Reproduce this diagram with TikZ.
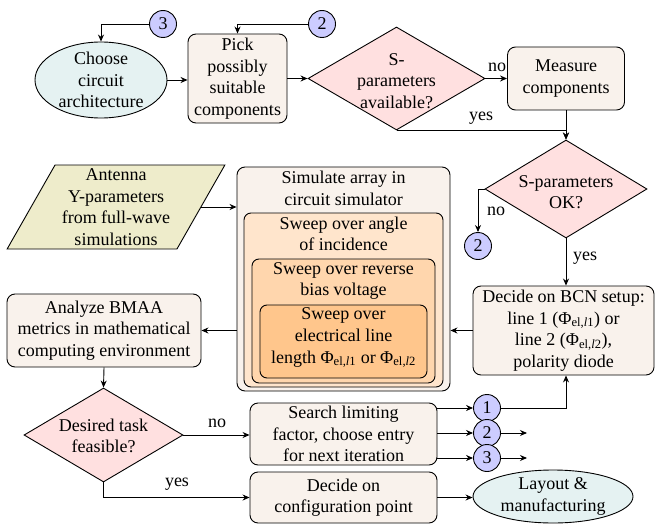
\documentclass[tikz,border=0pt]{standalone}
\usepackage{fontspec}
\setmainfont{Liberation Serif}
\usetikzlibrary{shapes.geometric,arrows.meta}
\begin{document}
\begin{tikzpicture}[x=1pt,y=-1pt,
  font=\fontsize{18}{21.6}\selectfont,
  every node/.style={align=center, inner sep=0pt},
  base/.style={draw=black, line width=0.9pt},
  proc/.style={base, rectangle, rounded corners=8pt, fill=brown!10},
  term/.style={base, ellipse, fill=teal!10},
  dec/.style={base, diamond, fill=red!12},
  io/.style={base, trapezium, trapezium left angle=61, trapezium right angle=119, trapezium stretches=true, fill=olive!15},
  conn/.style={base, circle, fill=blue!20, minimum size=27pt},
  arr/.style={line width=0.9pt, -{Stealth[length=7pt,width=6pt]}}
]
\useasboundingbox (0,0) rectangle (655,524);

% top row
\node[conn] (c3t) at (163,24) {3};
\node[conn] (c2t) at (322,24) {2};
\node[term, minimum width=132pt, minimum height=76pt] (arch) at (101,80) {};
\node (archt) at (101,80) {Choose\\circuit\\architecture};
\node[proc, minimum width=99pt, minimum height=89pt] (pick) at (237.5,78.5) {Pick\\possibly\\suitable\\components};
\node[dec, minimum width=177pt, minimum height=103pt] (avail) at (396.5,78.5) {};
\node (availt) at (396.5,81) {S-\\parameters\\available?};
\node[proc, minimum width=117pt, minimum height=63pt] (meas) at (566,78.5) {Measure\\components};

% right column
\node[dec, minimum width=162pt, minimum height=98pt] (ok) at (566,189) {};
\node (okt) at (566,192) {S-parameters\\OK?};
\node[conn] (c2m) at (478,246) {2};
\node[proc, minimum width=181pt, minimum height=89pt] (bcn) at (563.5,330.5) {Decide on BCN setup:\\line 1 (Φ\textsubscript{el,\textit{l}1}) or\\line 2 (Φ\textsubscript{el,\textit{l}2}),\\polarity diode};

% simulation nest
\node[proc, minimum width=213pt, minimum height=224pt] (sim) at (343.5,279) {};
\node[proc, rounded corners=7pt, fill=orange!20, minimum width=199pt, minimum height=174pt] (sw1) at (343.5,300) {};
\node[proc, rounded corners=7pt, fill=orange!32, minimum width=183pt, minimum height=124pt] (sw2) at (343.5,321) {};
\node[proc, rounded corners=7pt, fill=orange!45, minimum width=167pt, minimum height=73pt] (sw3) at (343.5,341.5) {};
\node (simt) at (343.5,188.5) {Simulate array in\\circuit simulator};
\node (sw1t) at (343.5,234) {Sweep over angle\\of incidence};
\node (sw2t) at (343.5,281) {Sweep over reverse\\bias voltage};
\node (sw3t) at (343.5,338) {Sweep over\\electrical line\\length Φ\textsubscript{el,\textit{l}1} or Φ\textsubscript{el,\textit{l}2}};

% left column
\node[io, minimum width=218pt, minimum height=84pt] (ant) at (116,207) {Antenna\\Y-parameters\\from full-wave\\simulations};
\node[proc, minimum width=194pt, minimum height=73pt] (ana) at (104,330.5) {Analyze BMAA\\metrics in mathematical\\computing environment};
\node[dec, minimum width=159pt, minimum height=94pt] (des) at (103.5,435) {};
\node (dest) at (103.5,436) {Desired task\\feasible?};

% bottom
\node[proc, minimum width=187pt, minimum height=62pt] (srch) at (343.5,434) {Search limiting\\factor, choose entry\\for next iteration};
\node[proc, minimum width=187pt, minimum height=51pt] (cfg) at (343.5,497.5) {Decide on\\configuration point};
\node[term, minimum width=160pt, minimum height=53pt] (lay) at (553,496.5) {};
\node (layt) at (553,496.5) {Layout \&\\manufacturing};
\node[conn] (c1) at (487,408) {1};
\node[conn] (c2) at (487,433) {2};
\node[conn] (c3) at (487,458) {3};
\coordinate (e2) at (527,433);
\coordinate (e3) at (527,458);

% connectors
\draw[arr] (c3t.west) -| (arch.north);
\draw[arr] (c2t.west) -| (pick.north);
\draw[arr] (arch.east) -- (pick.west |- arch.east);
\draw[arr] (pick.east) -- (avail.west);
\draw[arr] (avail.east) -- (meas.west);
\node (no1) at (497,67) {no};
\draw[arr] (meas.south) -- (ok.north);
\draw[arr] (avail.south) -| (ok.north);
\node (yes1) at (481,118) {yes};
\draw[arr] (ok.west) -| (c2m.north);
\node (no2) at (496,211) {no};
\draw[arr] (ok.south) -- (ok.south |- bcn.north);
\node (yes2) at (585,258) {yes};
\draw[arr] (bcn.west) -- (bcn.west -| sim.east);
\draw[arr] (ant.east) -- (ant.east -| sim.west);
\draw[arr] (ana.east -| sim.west) -- (ana.east);
\draw[arr] (ana.south) -- (des.north);
\draw[arr] (des.east) -- (des.east -| srch.west);
\node (no3) at (217,423) {no};
\draw[arr] (des.south) |- (cfg.west);
\node (yes3) at (177,484) {yes};
\draw[arr] (cfg.east) -- (cfg.east -| lay.west);
\draw[arr] (srch.east |- c1.west) -- (c1.west);
\draw[arr] (srch.east |- c2.west) -- (c2.west);
\draw[arr] (srch.east |- c3.west) -- (c3.west);
\draw[arr] (c1.east) -| (ok.south |- bcn.south);
\draw[arr] (c2.east) -- (e2);
\draw[arr] (c3.east) -- (e3);
\end{tikzpicture}
\end{document}
